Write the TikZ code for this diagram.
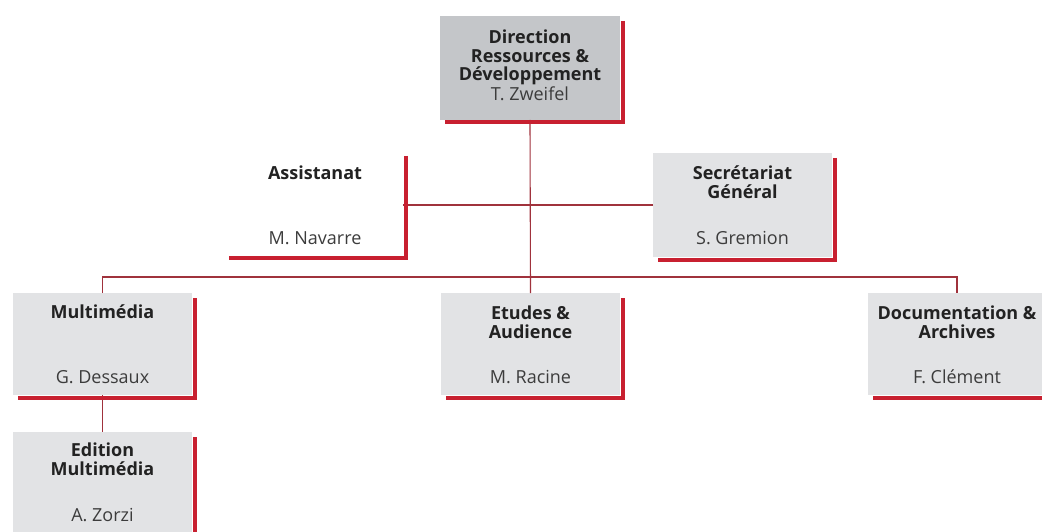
\documentclass[tikz,border=0pt]{standalone}
\usepackage{fontspec}
\setmainfont{Open Sans}
\definecolor{boxgray}{RGB}{226,227,229}
\definecolor{topgray}{RGB}{196,198,201}
\definecolor{redbar}{RGB}{200,32,48}
\definecolor{connred}{RGB}{160,50,60}
\definecolor{ttltxt}{RGB}{34,34,34}
\definecolor{nmtxt}{RGB}{60,60,60}
\tikzset{
  box/.style={draw=none, anchor=north west, inner sep=0pt, outer sep=0pt},
  ttl/.style={font=\fontsize{18}{18.7}\selectfont\bfseries, text=ttltxt, align=center, anchor=base, inner sep=0pt},
  nm/.style={font=\fontsize{18}{18.7}\selectfont, text=nmtxt, anchor=base, inner sep=0pt},
  conn/.style={draw=connred, line width=1.1pt},
  bar/.style={draw=redbar, line width=4pt},
}
\newcommand{\rbar}[1]{\draw[bar] ([xshift=2.5pt,yshift=-5pt]#1.north east) -- ([xshift=2.5pt,yshift=-2.5pt]#1.south east) -- ([xshift=5pt,yshift=-2.5pt]#1.south west);}
\begin{document}
\begin{tikzpicture}[x=1pt,y=-1pt]
\useasboundingbox (0,0) rectangle (1042,532);
\clip (0,0) rectangle (1042,532);
\fill[white] (0,0) rectangle (1042,532);
% boxes
\node[box, fill=topgray, minimum width=180pt, minimum height=104pt] (dir) at (440,16) {};
\node[box, minimum width=179pt, minimum height=104pt] (asst) at (224,151) {};
\node[box, fill=boxgray, minimum width=179pt, minimum height=104pt] (sec) at (653,153) {};
\node[box, fill=boxgray, minimum width=179pt, minimum height=102pt] (mm) at (13,293) {};
\node[box, fill=boxgray, minimum width=179pt, minimum height=102pt] (etu) at (441,293) {};
\node[box, fill=boxgray, minimum width=178pt, minimum height=102pt] (doc) at (868,293) {};
\node[box, fill=boxgray, minimum width=179pt, minimum height=110pt] (edi) at (13,432) {};
% connectors
\draw[conn] (dir.south) -- (etu.north);
\draw[conn] (sec.west) -- (sec.west -| asst.east);
\draw[conn] (mm.north) -- ++(0,-16) -| (doc.north);
\draw[conn] (mm.south) -- (edi.north);
% red bars
\rbar{dir}
\rbar{asst}
\rbar{sec}
\rbar{mm}
\rbar{etu}
\rbar{doc}
\rbar{edi}
% texts (anchor base = baseline of last line)
\node[ttl] (dirt) at (530,81) {Direction\\Ressources \&\\Développement};
\node[nm] (dirn) at (530,101) {T. Zweifel};
\node[ttl] (asstt) at (315,179) {Assistanat};
\node[nm] (asstn) at (315,244) {M. Navarre};
\node[ttl] (sect) at (742.5,198) {Secrétariat\\Général};
\node[nm] (secn) at (742.5,244) {S. Gremion};
\node[ttl] (mmt) at (102.5,318) {Multimédia};
\node[nm] (mmn) at (102.5,383) {G. Dessaux};
\node[ttl] (etut) at (530.5,338) {Etudes \&\\Audience};
\node[nm] (etun) at (530.5,383) {M. Racine};
\node[ttl] (doct) at (957,338) {Documentation \&\\Archives};
\node[nm] (docn) at (957,383) {F. Clément};
\node[ttl] (edit) at (102.5,475) {Edition\\Multimédia};
\node[nm] (edin) at (102.5,521) {A. Zorzi};
\end{tikzpicture}
\end{document}
